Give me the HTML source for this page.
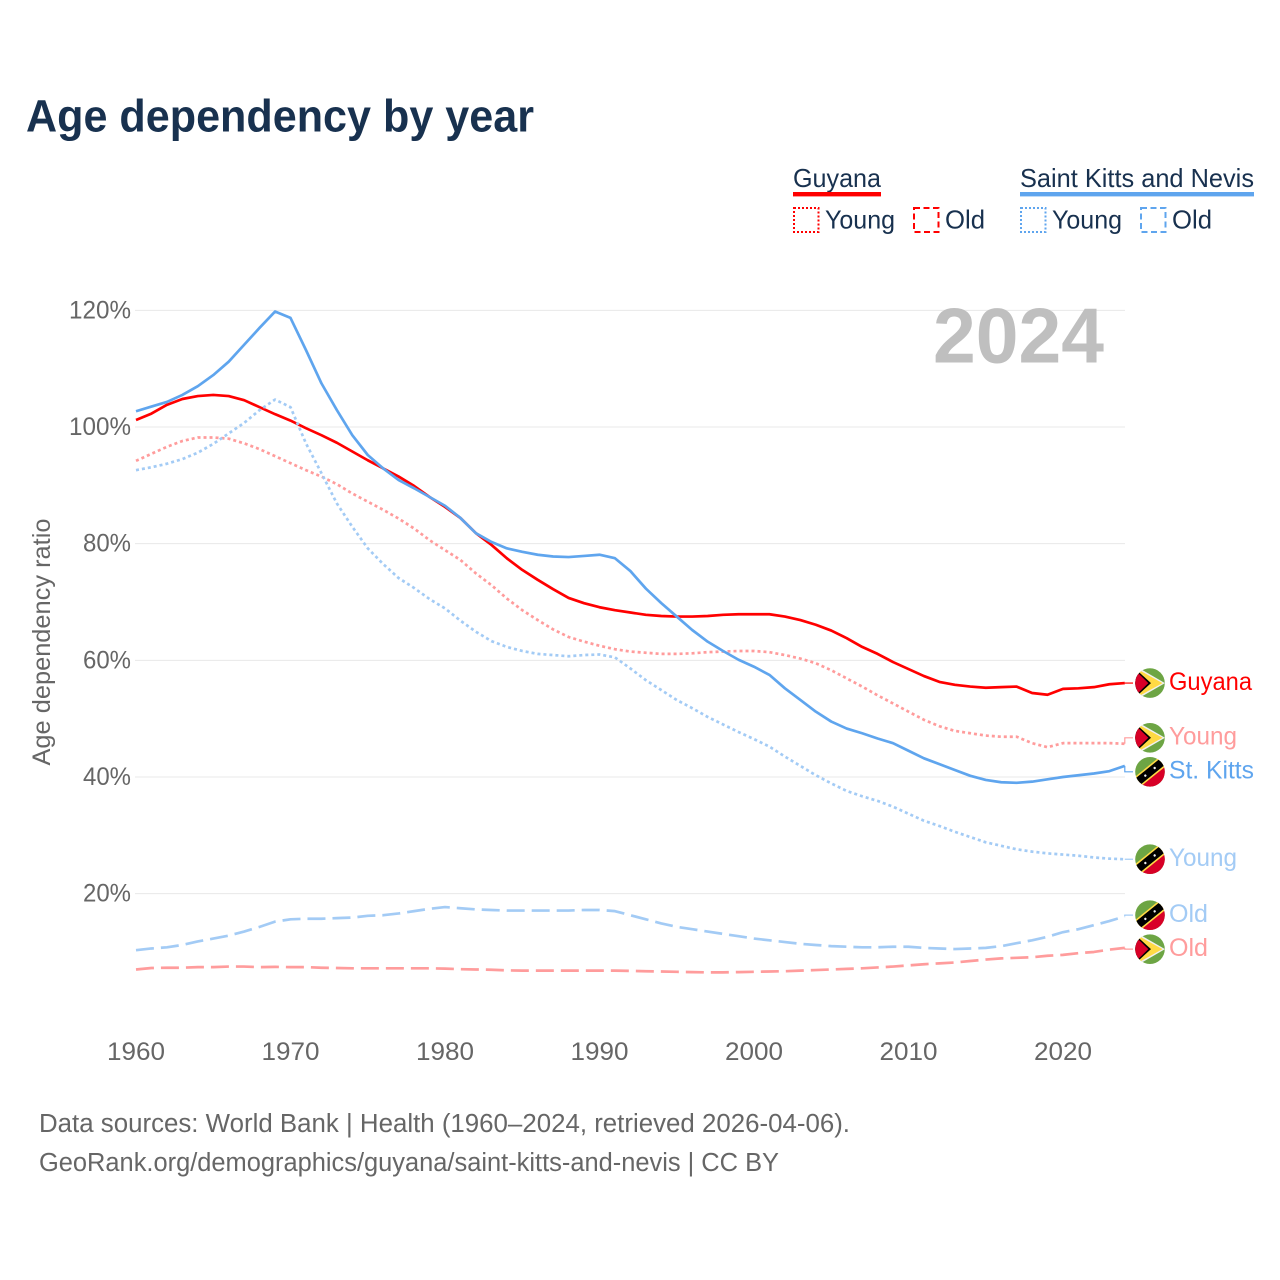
<!DOCTYPE html>
<html lang="en">
<head>
<meta charset="utf-8">
<title>Age dependency by year</title>
<style>
html,body{margin:0;padding:0;background:#fff;}
svg{display:block;font-family:"Liberation Sans",sans-serif;}
</style>
</head>
<body>
<svg id="chart" xmlns="http://www.w3.org/2000/svg" width="1280" height="1280" viewBox="0 0 1280 1280">
<defs>
<clipPath id="flag-clip"><circle cx="0" cy="0" r="14.8"/></clipPath>
<g id="flag-guyana" clip-path="url(#flag-clip)">
<rect x="-16" y="-16" width="32" height="32" fill="#6DA544"/>
<polygon points="-11,-15 15,0 -11,15" fill="#F0F0F0"/>
<polygon points="-12,-13.6 12.5,0 -12,13.6" fill="#FFDA44"/>
<polygon points="-16,-15.5 1,0 -16,15.5" fill="#000"/>
<polygon points="-16,-14 -1.7,0 -16,14" fill="#D80027"/>
</g>
<g id="flag-kitts" clip-path="url(#flag-clip)">
<rect x="-16" y="-16" width="32" height="32" fill="#6DA544"/>
<g transform="rotate(-39)">
<rect x="-22" y="0" width="44" height="22" fill="#D80027"/>
<rect x="-22" y="-5.6" width="44" height="11.2" fill="#FFDA44"/>
<rect x="-22" y="-4" width="44" height="8" fill="#000"/>
<circle cx="-6" cy="0" r="1.2" fill="#F0F0F0"/>
<circle cx="6" cy="0" r="1.2" fill="#F0F0F0"/>
</g>
</g>
</defs>

<rect x="0" y="0" width="1280" height="1280" fill="#fff"/>

<text x="26" y="131.5" font-size="45" font-weight="700" fill="#18314F" textLength="508" lengthAdjust="spacingAndGlyphs">Age dependency by year</text>

<g font-size="26" fill="#18314F">
<text x="793" y="187" textLength="88" lengthAdjust="spacingAndGlyphs">Guyana</text>
<rect x="793" y="192" width="88" height="4.4" fill="#FF0000"/>
<rect x="794" y="208" width="24.5" height="24" fill="none" stroke="#FF0000" stroke-width="2" stroke-dasharray="2 2"/>
<text x="825" y="228.5" textLength="70" lengthAdjust="spacingAndGlyphs">Young</text>
<rect x="914" y="208" width="24.5" height="24" fill="none" stroke="#FF0000" stroke-width="2" stroke-dasharray="6 3.5"/>
<text x="945" y="228.5" textLength="40" lengthAdjust="spacingAndGlyphs">Old</text>
<text x="1020" y="187" textLength="234" lengthAdjust="spacingAndGlyphs">Saint Kitts and Nevis</text>
<rect x="1020" y="192" width="234" height="4.4" fill="#5FA5EE"/>
<rect x="1021" y="208" width="24.5" height="24" fill="none" stroke="#5FA5EE" stroke-width="2" stroke-dasharray="2 2"/>
<text x="1052" y="228.5" textLength="70" lengthAdjust="spacingAndGlyphs">Young</text>
<rect x="1141" y="208" width="24.5" height="24" fill="none" stroke="#5FA5EE" stroke-width="2" stroke-dasharray="6 3.5"/>
<text x="1172" y="228.5" textLength="40" lengthAdjust="spacingAndGlyphs">Old</text>
</g>

<g id="grid"></g>
<text x="933" y="362.5" font-size="78" font-weight="700" fill="#BFBFBF" textLength="171" lengthAdjust="spacingAndGlyphs">2024</text>
<g id="y-ticks"></g>
<g id="x-ticks"></g>
<text transform="translate(50,642) rotate(-90)" text-anchor="middle" font-size="25" fill="#666666" textLength="247" lengthAdjust="spacingAndGlyphs">Age dependency ratio</text>
<g id="series"></g>
<g id="end-labels"></g>

<g font-size="25.5" fill="#666666">
<text x="39" y="1132" textLength="811" lengthAdjust="spacingAndGlyphs">Data sources: World Bank | Health (1960–2024, retrieved 2026-04-06).</text>
<text x="39" y="1171" textLength="740" lengthAdjust="spacingAndGlyphs">GeoRank.org/demographics/guyana/saint-kitts-and-nevis | CC BY</text>
</g>
</svg>

<script>
const years = [1960,1961,1962,1963,1964,1965,1966,1967,1968,1969,
1970,1971,1972,1973,1974,1975,1976,1977,1978,1979,
1980,1981,1982,1983,1984,1985,1986,1987,1988,1989,
1990,1991,1992,1993,1994,1995,1996,1997,1998,1999,
2000,2001,2002,2003,2004,2005,2006,2007,2008,2009,
2010,2011,2012,2013,2014,2015,2016,2017,2018,2019,
2020,2021,2022,2023,2024];
const xTickLabels = [1960,1970,1980,1990,2000,2010,2020];
const yTickLabels = [20,40,60,80,100,120];

const guyanaTotal = [101.2,102.3,103.8,104.8,105.3,105.5,105.3,104.6,103.4,102.2,
101.1,99.8,98.6,97.3,95.8,94.3,92.9,91.5,89.9,88.0,
86.3,84.4,81.8,79.8,77.5,75.5,73.8,72.2,70.7,69.8,
69.1,68.6,68.2,67.8,67.6,67.5,67.5,67.6,67.8,67.9,
67.9,67.9,67.5,66.9,66.1,65.1,63.8,62.3,61.1,59.7,
58.5,57.3,56.3,55.8,55.5,55.3,55.4,55.5,54.4,54.1,
55.1,55.2,55.4,55.9,56.1];
const guyanaYoung = [94.2,95.4,96.6,97.6,98.2,98.2,98.0,97.2,96.2,95.0,
93.8,92.6,91.5,90.2,88.6,87.2,85.8,84.3,82.6,80.6,
78.9,77.2,74.9,72.9,70.6,68.6,66.9,65.3,64.0,63.2,
62.5,61.9,61.5,61.3,61.1,61.1,61.2,61.4,61.5,61.6,
61.6,61.4,60.9,60.3,59.5,58.3,56.9,55.5,54.0,52.6,
51.2,49.8,48.7,47.9,47.5,47.1,46.9,46.9,45.8,45.1,
45.8,45.8,45.8,45.8,45.7];
const guyanaOld = [7.0,7.25,7.3,7.3,7.4,7.4,7.5,7.5,7.4,7.45,
7.4,7.4,7.3,7.25,7.2,7.2,7.2,7.2,7.2,7.2,
7.15,7.05,7.0,6.95,6.85,6.8,6.8,6.8,6.8,6.8,
6.8,6.8,6.75,6.7,6.65,6.6,6.55,6.5,6.5,6.55,
6.6,6.65,6.7,6.8,6.9,7.0,7.1,7.2,7.35,7.5,
7.7,7.9,8.05,8.2,8.45,8.7,8.9,9.0,9.1,9.35,
9.5,9.8,10.0,10.4,10.7];
const kittsTotal = [102.7,103.5,104.3,105.5,107.0,108.9,111.2,114.1,117.0,119.8,
118.7,113.2,107.5,102.9,98.6,95.2,92.9,90.9,89.5,88.0,
86.5,84.4,81.8,80.3,79.2,78.6,78.1,77.8,77.7,77.9,
78.1,77.5,75.3,72.3,69.8,67.5,65.2,63.2,61.6,60.1,
58.9,57.5,55.2,53.2,51.2,49.5,48.3,47.5,46.6,45.8,
44.5,43.2,42.2,41.2,40.2,39.5,39.1,39.0,39.2,39.6,
40.0,40.3,40.6,41.0,41.9];
const kittsYoung = [92.6,93.1,93.7,94.5,95.6,97.1,98.9,100.7,102.9,104.7,
103.4,97.2,92.1,86.9,82.9,79.2,76.5,74.1,72.4,70.5,
68.9,66.8,64.9,63.3,62.3,61.6,61.1,60.9,60.7,60.9,
61.0,60.5,58.6,56.6,54.9,53.2,51.8,50.3,49.0,47.7,
46.5,45.2,43.5,41.9,40.3,38.9,37.6,36.7,35.9,34.9,
33.7,32.5,31.6,30.6,29.7,28.8,28.2,27.6,27.2,26.9,
26.7,26.5,26.2,26.0,25.9];
const kittsOld = [10.3,10.6,10.8,11.2,11.8,12.3,12.8,13.5,14.3,15.2,
15.6,15.7,15.7,15.8,15.9,16.2,16.3,16.6,17.0,17.4,
17.7,17.5,17.3,17.2,17.1,17.1,17.1,17.1,17.1,17.2,
17.2,17.0,16.3,15.6,14.9,14.3,13.9,13.5,13.1,12.7,
12.3,12.0,11.7,11.4,11.2,11.0,10.9,10.8,10.8,10.9,
10.9,10.7,10.6,10.5,10.6,10.7,11.0,11.5,12.0,12.6,
13.4,13.9,14.6,15.3,16.1];

const SVGNS = 'http://www.w3.org/2000/svg';
function xScale(year){ return 136 + (year - 1960) * 15.45; }
function yScale(v){ return 1010.3 - v * 5.833; }
function make(tag, attrs, parent){
  const el = document.createElementNS(SVGNS, tag);
  for (const k in attrs) el.setAttribute(k, attrs[k]);
  parent.appendChild(el);
  return el;
}

const gridG = document.getElementById('grid');
const yTickG = document.getElementById('y-ticks');
yTickLabels.forEach(function(t){
  const line = make('line', {x1:135, x2:1125, y1:yScale(t), y2:yScale(t), stroke:'#E8E8E8', 'stroke-width':1}, gridG);
  
  
  const label = make('text', {x:131, y:yScale(t)+8, 'text-anchor':'end', 'font-size':25, fill:'#666666', textLength:String(t).length===3?62:48, lengthAdjust:'spacingAndGlyphs'}, yTickG);
  label.textContent = t + '%';
  
  
});

const xTickG = document.getElementById('x-ticks');
xTickLabels.forEach(function(t){
  const label = make('text', {x:xScale(t), y:1060, 'text-anchor':'middle', 'font-size':25, fill:'#666666', textLength:58, lengthAdjust:'spacingAndGlyphs'}, xTickG);
  label.textContent = t;
  
  
});

const DOT = '3 3';
const DASH = '18 7';
const seriesList = [
  {id:'guyana-old', values:guyanaOld, color:'#FF9C9C', dash:DASH, label:'Old', width:39, flag:'#flag-guyana'},
  {id:'guyana-young', values:guyanaYoung, color:'#FF9C9C', dash:DOT, label:'Young', width:68, flag:'#flag-guyana'},
  {id:'guyana-total', values:guyanaTotal, color:'#FF0000', dash:'', label:'Guyana', width:83, flag:'#flag-guyana'},
  {id:'kitts-old', values:kittsOld, color:'#A3CBF5', dash:DASH, label:'Old', width:39, flag:'#flag-kitts'},
  {id:'kitts-young', values:kittsYoung, color:'#A3CBF5', dash:DOT, label:'Young', width:68, flag:'#flag-kitts'},
  {id:'kitts-total', values:kittsTotal, color:'#5FA5EE', dash:'', label:'St. Kitts', width:85, flag:'#flag-kitts'}
];

const seriesG = document.getElementById('series');
seriesList.forEach(function(s){
  const pts = s.values.map(function(v, i){ return xScale(years[i]).toFixed(2) + ',' + yScale(v).toFixed(2); }).join(' ');
  const line = make('polyline', {points:pts, fill:'none', stroke:s.color, 'stroke-width':2.7, 'stroke-linejoin':'round'}, seriesG);
  if (s.dash) line.setAttribute('stroke-dasharray', s.dash);
  
  
});

// End labels: start at the last value, then push apart any labels that would overlap.
const MIN_GAP = 34;
const ends = seriesList.map(function(s){
  const endY = yScale(s.values[s.values.length - 1]);
  return {s:s, endY:endY, labelY:endY};
}).sort(function(a, b){ return a.endY - b.endY; });
for (let i = 1; i < ends.length; i++) {
  if (ends[i].labelY - ends[i-1].labelY < MIN_GAP) {
    const mid = (ends[i].labelY + ends[i-1].labelY) / 2;
    ends[i-1].labelY = mid - MIN_GAP / 2;
    ends[i].labelY = mid + MIN_GAP / 2;
  }
}
const endG = document.getElementById('end-labels');
const endX = xScale(years[years.length - 1]);
ends.forEach(function(e){
  const conn = make('polyline', {points:endX+','+e.endY.toFixed(2)+' '+endX+','+e.labelY.toFixed(2)+' 1133,'+e.labelY.toFixed(2), fill:'none', stroke:e.s.color, 'stroke-width':1.2}, endG);
  
  
  const flag = make('use', {href:e.s.flag, transform:'translate(1150,' + e.labelY.toFixed(2) + ')'}, endG);
  
  
  const text = make('text', {x:1169, y:(e.labelY + 6.8).toFixed(2), 'font-size':25, fill:e.s.color, textLength:e.s.width, lengthAdjust:'spacingAndGlyphs'}, endG);
  text.textContent = e.s.label;
  
  
});
</script>
</body>
</html>
